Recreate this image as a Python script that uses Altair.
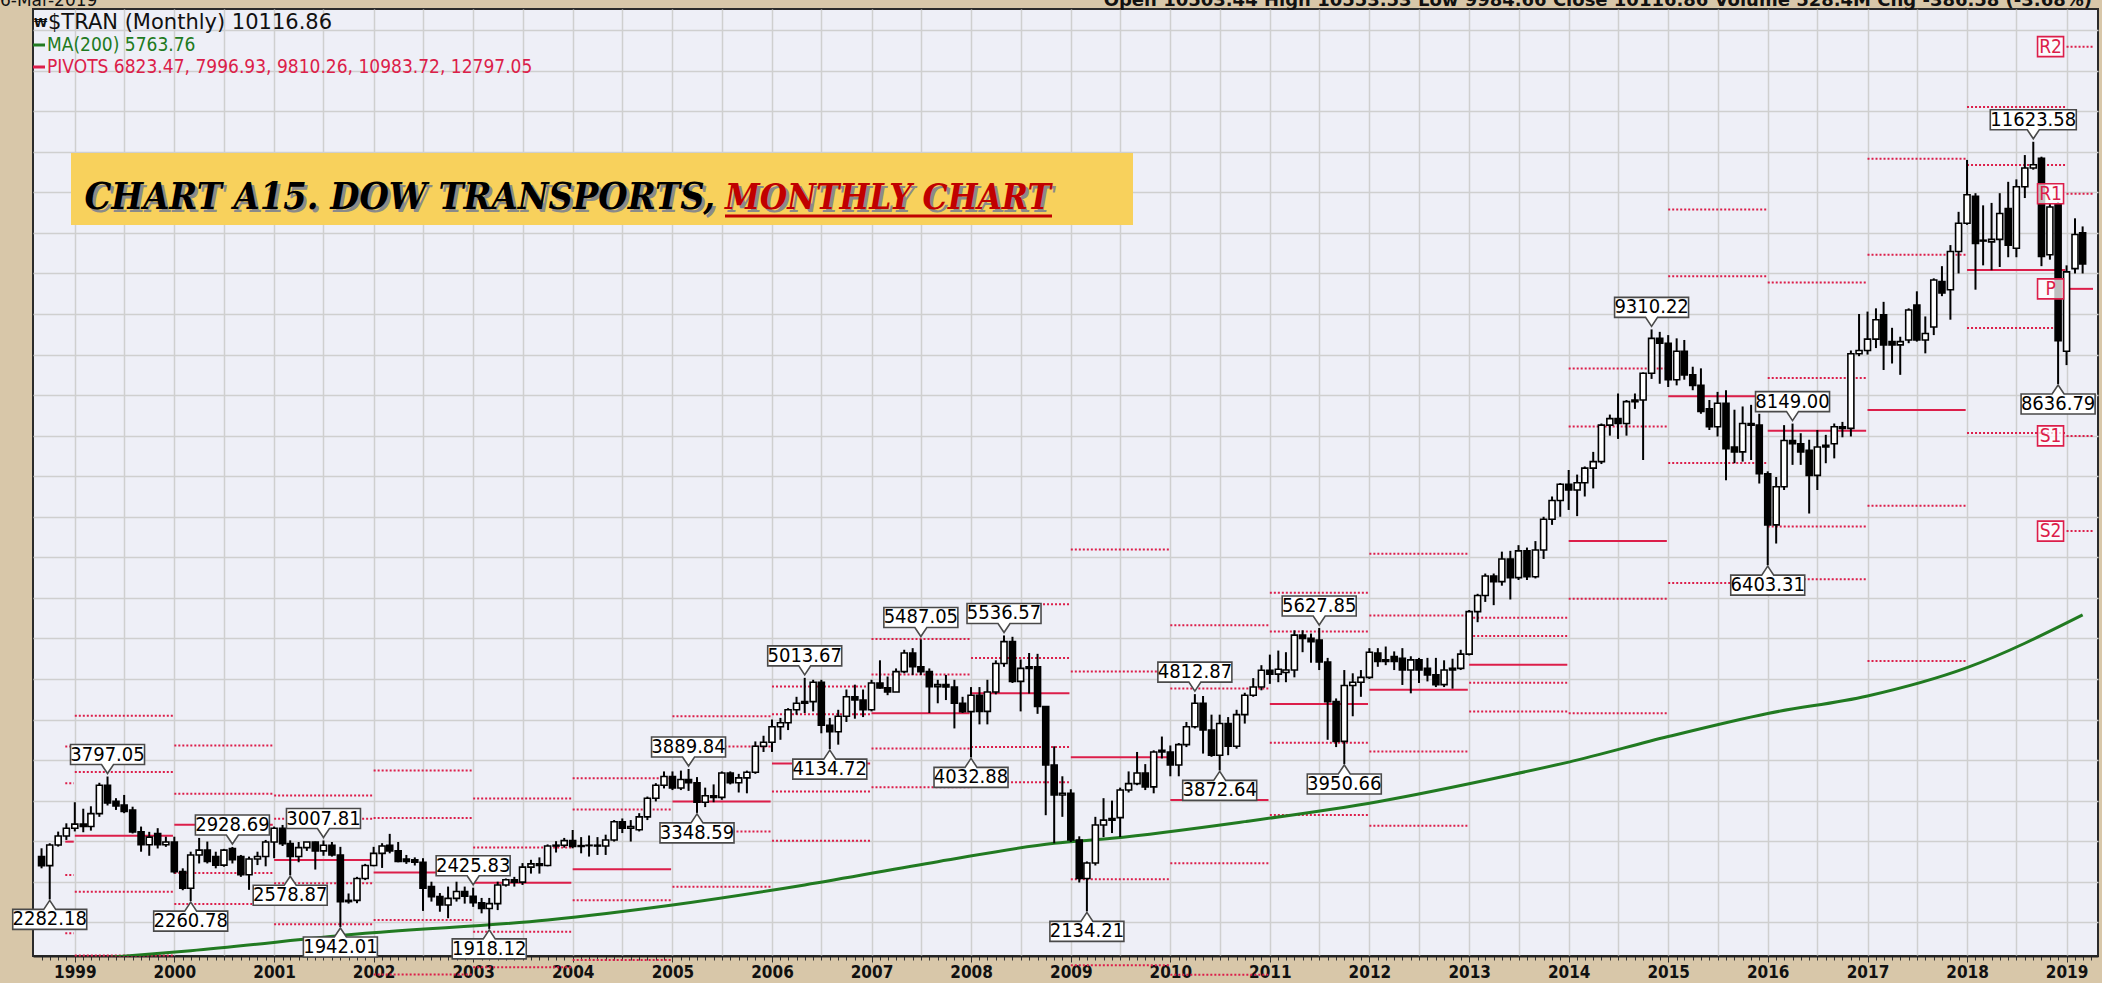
import altair as alt
import pandas as pd
import numpy as np

# ------------------------------------------------------------------
# Monthly candles of $TRAN, Sep 1998 .. Mar 2019
# ------------------------------------------------------------------
first_month = "1998-09-01"

opens = [
    2809, 2698, 2953, 3064,                                                    # 1998 Sep-Dec
    3160, 3210, 3180, 3340, 3690, 3490, 3445, 3385, 3115, 2955, 3095, 2955,    # 1999
    2990, 2625, 2420, 2830, 2890, 2810, 2705, 2910, 2810, 2585, 2780, 2810,    # 2000
    2990, 3160, 2970, 2810, 2920, 2990, 2880, 2950, 2830, 2255, 2270, 2540,    # 2001
    2700, 2850, 2950, 2880, 2780, 2770, 2740, 2440, 2316, 2213, 2295, 2380,    # 2002
    2320, 2240, 2170, 2230, 2460, 2525, 2495, 2680, 2720, 2700, 2940, 2950,    # 2003
    3007, 2935, 2945, 2950, 2940, 3015, 3240, 3160, 3140, 3300, 3530, 3690,    # 2004
    3798, 3655, 3760, 3720, 3480, 3560, 3540, 3840, 3720, 3780, 3850, 4170,    # 2005
    4220, 4410, 4460, 4620, 4700, 4720, 4960, 4430, 4350, 4540, 4780, 4740,    # 2006
    4620, 4950, 4890, 4840, 5090, 5320, 5150, 5090, 4905, 4930, 4900, 4700,    # 2007
    4597, 4800, 4600, 4840, 5190, 5460, 4970, 5130, 5150, 4660, 3940, 3570,    # 2008
    3590, 3015, 2540, 2730, 3200, 3260, 3290, 3630, 3710, 3840, 3670, 4120,    # 2009
    4100, 3940, 4190, 4410, 4700, 4370, 4060, 4450, 4170, 4560, 4800, 4900,    # 2010
    5107, 5060, 5080, 5110, 5540, 5500, 5480, 5210, 4720, 4230, 4920, 4960,    # 2011
    5020, 5320, 5215, 5275, 5255, 5110, 5235, 5130, 5050, 4930, 5110, 5130,    # 2012
    5306, 5830, 6030, 6270, 6200, 6480, 6250, 6580, 6260, 6590, 6970, 7200,    # 2013
    7400, 7330, 7420, 7600, 7680, 8130, 8210, 8150, 8420, 8440, 8770, 9200,    # 2014
    9140, 8690, 9040, 8750, 8620, 8330, 8110, 8400, 7860, 7800, 8150, 8130,    # 2015
    7530, 6900, 7370, 7940, 7900, 7820, 7510, 7860, 7900, 8110, 8090, 9010,    # 2016
    9050, 9190, 9490, 9160, 9120, 9180, 9610, 9180, 9340, 9900, 9800, 10270,   # 2017
    10620, 10950, 10410, 10390, 10420, 10800, 10310, 11070, 11300, 11420, 10230, 10860,  # 2018
    9040, 10060, 10500,                                                        # 2019 Jan-Mar
]

highs = [
    2912, 2974, 3118, 3220,
    3480, 3400, 3430, 3720, 3797.05, 3530, 3570, 3425, 3180, 3115, 3160, 3055,
    3055, 2665, 2870, 3040, 2995, 2870, 2905, 2928.69, 2830, 2810, 2870, 3015,
    3180, 3200, 3010, 2990, 2990, 2995, 3007.81, 2990, 2930, 2355, 2560, 2720,
    2930, 2975, 3090, 2990, 2830, 2800, 2790, 2500, 2360, 2440, 2500, 2440,
    2425.83, 2300, 2300, 2500, 2540, 2560, 2730, 2770, 2800, 2960, 3000, 3040,
    3138, 3050, 3070, 3050, 3080, 3260, 3280, 3260, 3345, 3550, 3715, 3860,
    3860, 3870, 3889.84, 3790, 3660, 3700, 3860, 3860, 3830, 3870, 4230, 4300,
    4500, 4520, 4640, 4780, 5013.67, 4990, 4990, 4520, 4620, 4870, 4930, 4870,
    4990, 5230, 5030, 5130, 5360, 5380, 5487.05, 5130, 4990, 5050, 4990, 4780,
    4900, 4900, 4990, 5230, 5536.57, 5520, 5240, 5320, 5310, 4660, 4170, 3800,
    3640, 3060, 2750, 3300, 3530, 3500, 3660, 3860, 4100, 3950, 4120, 4290,
    4180, 4210, 4470, 4812.87, 4790, 4560, 4560, 4530, 4620, 4830, 5010, 5170,
    5300, 5350, 5330, 5600, 5600, 5560, 5627.85, 5260, 4760, 5110, 5070, 5110,
    5380, 5380, 5400, 5340, 5380, 5280, 5260, 5260, 5260, 5230, 5250, 5360,
    5850, 6050, 6300, 6300, 6570, 6580, 6650, 6620, 6700, 7000, 7250, 7416,
    7577, 7520, 7620, 7800, 8150, 8260, 8520, 8440, 8520, 8780, 9310.22, 9280,
    9240, 9200, 9180, 8850, 8830, 8440, 8540, 8560, 8320, 8360, 8380, 8270,
    7560, 7490, 8130, 8149.00, 8030, 7950, 8070, 8010, 8150, 8170, 9050, 9500,
    9530, 9570, 9650, 9330, 9220, 9570, 9780, 9470, 9940, 10090, 10350, 10760,
    11400, 10990, 10840, 10870, 10990, 11130, 11160, 11460, 11623.58, 11440, 10860, 10880,
    10100, 10680, 10580,
]

lows = [
    2665, 2282.18, 2933, 3015,
    3120, 3110, 3130, 3300, 3440, 3385, 3345, 3095, 2870, 2820, 2910, 2930,
    2600, 2395, 2260.78, 2725, 2725, 2665, 2685, 2725, 2560, 2400, 2705, 2690,
    2790, 2940, 2578.87, 2740, 2880, 2650, 2820, 2810, 1942.01, 2230, 2235, 2520,
    2690, 2670, 2850, 2740, 2720, 2700, 2140, 2255, 2130, 2050, 2255, 2230,
    2190, 2110, 1918.12, 2150, 2440, 2440, 2460, 2600, 2600, 2690, 2860, 2920,
    2912, 2850, 2810, 2830, 2830, 2995, 3100, 2995, 3120, 3260, 3490, 3650,
    3630, 3630, 3620, 3348.59, 3420, 3480, 3510, 3700, 3600, 3590, 3830, 4100,
    4100, 4250, 4370, 4560, 4580, 4600, 4330, 4134.72, 4190, 4470, 4510, 4530,
    4600, 4880, 4800, 4840, 5070, 5050, 5050, 4580, 4700, 4740, 4390, 4580,
    4032.88, 4440, 4440, 4810, 5150, 4950, 4600, 4820, 4570, 3320, 2974, 3300,
    2990, 2490, 2134.21, 2700, 3050, 3100, 3050, 3600, 3690, 3630, 3590, 4020,
    3800, 3800, 4160, 4390, 4080, 4040, 3872.64, 4060, 4140, 4450, 4780, 4860,
    4940, 4960, 4960, 5020, 5330, 5200, 5110, 4250, 4160, 3950.66, 4540, 4780,
    5000, 5150, 5170, 5110, 4926, 4823, 4950, 4970, 4900, 4900, 4880, 5110,
    5290, 5700, 5950, 5910, 6150, 5980, 6220, 6220, 6240, 6480, 6900, 7000,
    7084, 7008, 7250, 7350, 7650, 8000, 7960, 8000, 8330, 7700, 8700, 8640,
    8600, 8620, 8690, 8560, 8270, 8070, 7990, 7450, 7660, 7680, 7700, 7410,
    6403.31, 6670, 7330, 7640, 7640, 7040, 7330, 7660, 7720, 7980, 7990, 8980,
    9000, 9080, 8810, 8890, 8750, 9140, 9160, 9015, 9240, 9720, 9430, 10000,
    10600, 9800, 10100, 10040, 10080, 10200, 10200, 10930, 11280, 10090, 10170, 8636.79,
    8870, 10000, 10000,
]

closes = [
    2698, 2953, 3064, 3160,
    3210, 3180, 3340, 3690, 3470, 3435, 3365, 3115, 2955, 3050, 2955, 2990,
    2625, 2420, 2830, 2890, 2750, 2705, 2890, 2770, 2585, 2780, 2810, 2990,
    3160, 2970, 2810, 2920, 2990, 2880, 2950, 2830, 2255, 2270, 2540, 2700,
    2850, 2940, 2880, 2750, 2750, 2740, 2420, 2316, 2213, 2295, 2380, 2320,
    2240, 2170, 2230, 2460, 2525, 2495, 2680, 2720, 2700, 2940, 2950, 3007,
    2935, 2945, 2950, 2940, 3015, 3240, 3160, 3180, 3300, 3530, 3690, 3798,
    3655, 3760, 3720, 3480, 3560, 3540, 3840, 3720, 3780, 3850, 4170, 4220,
    4410, 4460, 4620, 4700, 4720, 4960, 4430, 4350, 4540, 4780, 4740, 4620,
    4950, 4890, 4840, 5090, 5320, 5150, 5090, 4905, 4930, 4900, 4700, 4597,
    4800, 4600, 4840, 5190, 5460, 4970, 5130, 5150, 4660, 3940, 3570, 3590,
    3015, 2540, 2730, 3200, 3260, 3280, 3630, 3710, 3840, 3670, 4100, 4100,
    3940, 4190, 4410, 4700, 4370, 4060, 4450, 4170, 4560, 4800, 4900, 5107,
    5060, 5120, 5110, 5540, 5500, 5460, 5210, 4720, 4230, 4920, 4960, 5020,
    5330, 5215, 5235, 5215, 5110, 5235, 5110, 5050, 4930, 5110, 5130, 5306,
    5830, 6030, 6270, 6200, 6480, 6250, 6580, 6260, 6590, 6970, 7200, 7400,
    7330, 7420, 7600, 7680, 8130, 8210, 8150, 8420, 8440, 8770, 9200, 9140,
    8690, 9040, 8750, 8620, 8300, 8110, 8400, 7840, 7800, 8150, 8130, 7530,
    6900, 7370, 7940, 7900, 7800, 7510, 7860, 7880, 8110, 8090, 9010, 9050,
    9190, 9430, 9120, 9120, 9160, 9550, 9180, 9260, 9920, 9760, 10270, 10620,
    10970, 10370, 10400, 10420, 10740, 10350, 11070, 11300, 11340, 10210, 10820, 9170.41,
    10020, 10480, 10116.86,
]

# 200-month moving average
ma_months = ["1999-05-01", "2000-03-01", "2001-12-01", "2003-10-01", "2005-01-01",
             "2006-05-01", "2007-09-01", "2008-11-01", "2009-06-01", "2010-10-01",
             "2012-02-01", "2013-06-01", "2014-01-01", "2015-01-01", "2016-01-01",
             "2017-01-01", "2018-01-01", "2019-03-01"]
ma_values = [1565, 1650, 1864, 2028, 2213, 2460, 2747, 2974, 3036, 3241,
             3487, 3816, 3975, 4290, 4575, 4790, 5140, 5790]

# swing high / low annotations
label_months = ["1998-10-01", "1999-05-01", "2000-03-01", "2000-08-01", "2001-03-01",
                "2001-07-01", "2001-09-01", "2003-01-01", "2003-03-01", "2005-03-01",
                "2005-04-01", "2006-05-01", "2006-08-01", "2007-07-01", "2008-01-01",
                "2008-05-01", "2009-03-01", "2010-04-01", "2010-07-01", "2011-07-01",
                "2011-10-01", "2014-11-01", "2016-01-01", "2016-04-01", "2018-09-01",
                "2018-12-01"]
label_texts = ["2282.18", "3797.05", "2260.78", "2928.69", "2578.87", "3007.81", "1942.01",
               "2425.83", "1918.12", "3889.84", "3348.59", "5013.67", "4134.72", "5487.05",
               "4032.88", "5536.57", "2134.21", "4812.87", "3872.64", "5627.85", "3950.66",
               "9310.22", "6403.31", "8149.00", "11623.58", "8636.79"]
label_kinds = ["L", "H", "L", "H", "L", "H", "L", "H", "L", "H", "L", "H", "L", "H",
               "L", "H", "L", "H", "L", "H", "L", "H", "L", "H", "H", "L"]

# pivot levels shown over the last weeks of 1998 (derived from 1997, before the chart)
pivot_1998_levels = ["R2", "R1", "P", "S1", "S2"]
pivot_1998_values = [4166, 3714, 2994, 2583, 1864]
high_1998_before_chart = 3760   # 1998's yearly high was set before the first month shown

legend_line1 = "$TRAN (Monthly) 10116.86"
legend_line2 = "MA(200) 5763.76"
legend_line3 = "PIVOTS 6823.47, 7996.93, 9810.26, 10983.72, 12797.05"
header_date = "6-Mar-2019"
header_quote = "Open 10503.44  High 10553.53  Low 9984.66  Close 10116.86  Volume 528.4M  Chg -386.58 (-3.68%)"
title_black = "CHART A15. DOW TRANSPORTS,"
title_red = "MONTHLY CHART"

# ------------------------------------------------------------------
# tables
# ------------------------------------------------------------------
dates = pd.date_range(first_month, periods=len(opens), freq="MS")
candles = pd.DataFrame({"date": dates.strftime("%Y-%m-%d"), "open": opens,
                        "high": highs, "low": lows, "close": closes})
candles["high"] = candles[["high", "open", "close"]].max(axis=1)
candles["low"] = candles[["low", "open", "close"]].min(axis=1)
candles["dir"] = np.where(candles["close"] >= candles["open"], "up", "down")
candles["year"] = dates.year

yearly = candles.groupby("year").agg(h=("high", "max"), l=("low", "min"), c=("close", "last"))
yearly.loc[1998, "h"] = max(yearly.loc[1998, "h"], high_1998_before_chart)

piv_rows = []
for lvl, v in zip(pivot_1998_levels, pivot_1998_values):
    piv_rows.append({"start": "1998-11-27", "end": "1998-12-28", "v": v, "level": lvl, "year": 1998})
for yr in range(1999, 2020):
    h, l, c = yearly.loc[yr - 1, ["h", "l", "c"]]
    p = (h + l + c) / 3
    lv = {"R2": p + (h - l), "R1": 2 * p - l, "P": p, "S1": 2 * p - h, "S2": p - (h - l)}
    end = f"{yr}-12-27" if yr < 2019 else "2019-04-08"
    for k, v in lv.items():
        piv_rows.append({"start": f"{yr}-01-01", "end": end, "v": v, "level": k, "year": yr})
pivots = pd.DataFrame(piv_rows)
pivots["solid"] = pivots["level"] == "P"
piv2019 = pivots[pivots["year"] == 2019].copy()

ma = pd.DataFrame({"date": ma_months, "v": ma_values})


def box_path(n, kind):
    w = (6 * n - 5) / 50.0
    s = -1 if kind == "H" else 1
    return (f"M0,0L-0.12,{0.18*s:.2f}L-{w:.2f},{0.18*s:.2f}L-{w:.2f},{0.58*s:.2f}"
            f"L{w:.2f},{0.58*s:.2f}L{w:.2f},{0.18*s:.2f}L0.12,{0.18*s:.2f}Z")


labels = pd.DataFrame({"date": label_months, "text": label_texts, "kind": label_kinds})
labels["v"] = labels["text"].astype(float)
labels["path"] = [box_path(len(t), k) for t, k in zip(labels["text"], labels["kind"])]
lab_h = labels[labels["kind"] == "H"]
lab_l = labels[labels["kind"] == "L"]

# ------------------------------------------------------------------
# scales / axes
# ------------------------------------------------------------------
W, H = 2065, 947
NARROW = "DejaVu Sans Condensed, Liberation Sans Narrow, sans-serif"
RED = "#DC1E4A"
GREEN = "#217A21"


def ms(d):
    return int(pd.Timestamp(d).value // 10**6)


X_DOMAIN = [ms("1998-08-19"), ms("2019-04-08")]
Y_DOMAIN = [1584, 13261]
month_ticks = [ms(d) for d in pd.date_range("1998-09-01", "2019-04-01", freq="MS")]

xaxis = alt.Axis(
    values=month_ticks, grid=True, gridColor="#CFCFCF", gridWidth=1.5,
    gridOpacity={"condition": {"test": "utcmonth(datum.value) % 6 == 0", "value": 1}, "value": 0},
    labelExpr="utcmonth(datum.value) == 0 ? utcFormat(datum.value, '%Y') : ''",
    labelOverlap=False, labelFlush=False, labelBound=False,
    labelFont=NARROW, labelFontSize=17, labelFontWeight="bold", labelColor="#111111",
    labelPadding=2, tickColor="#333333", tickWidth=1,
    tickSize={"condition": {"test": "utcmonth(datum.value) == 0", "value": 6}, "value": 4},
    domainColor="#222222", domainWidth=2, title=None)
yaxis = alt.Axis(values=list(range(2000, 13001, 500)), grid=True, gridColor="#CFCFCF",
                 gridWidth=1.5, labels=False, ticks=False, domain=False, title=None, orient="right")

xs = alt.Scale(type="utc", domain=X_DOMAIN, nice=False)
ys = alt.Scale(domain=Y_DOMAIN, nice=False, zero=False)


def X(f):
    return alt.X(f"{f}:T", scale=xs, axis=xaxis, title=None)


def X2(f):
    return alt.X2(f"{f}:T")


def Y(f):
    return alt.Y(f"{f}:Q", scale=ys, axis=yaxis, title=None)


# ------------------------------------------------------------------
# layers
# ------------------------------------------------------------------
piv_dotted = alt.Chart(pivots[~pivots["solid"]]).mark_rule(
    color=RED, strokeWidth=2, strokeDash=[2, 2]).encode(x=X("start"), x2=X2("end"), y=Y("v"))
piv_solid = alt.Chart(pivots[pivots["solid"]]).mark_rule(
    color=RED, strokeWidth=2).encode(x=X("start"), x2=X2("end"), y=Y("v"))

ma_line = alt.Chart(ma).mark_line(color=GREEN, strokeWidth=3, clip=True,
                                  interpolate="monotone").encode(x=X("date"), y=Y("v"))

wicks = alt.Chart(candles).mark_rule(color="black", strokeWidth=2).encode(
    x=X("date"), y=Y("low"), y2=alt.Y2("high"))
bodies = alt.Chart(candles).mark_bar(size=6, stroke="black", strokeWidth=1.6).encode(
    x=X("date"), y=Y("open"), y2=alt.Y2("close"),
    fill=alt.Fill("dir:N", scale=alt.Scale(domain=["up", "down"], range=["white", "black"]),
                  legend=None))

box_h = alt.Chart(lab_h).mark_point(filled=True, size=10000, fill="white", stroke="#4A4A4A",
                                    strokeWidth=1.6, opacity=1, yOffset=-3).encode(
    x=X("date"), y=Y("v"), shape=alt.Shape("path:N", scale=None))
box_l = alt.Chart(lab_l).mark_point(filled=True, size=10000, fill="white", stroke="#4A4A4A",
                                    strokeWidth=1.6, opacity=1, yOffset=1).encode(
    x=X("date"), y=Y("v"), shape=alt.Shape("path:N", scale=None))
txt_h = alt.Chart(lab_h).mark_text(font=NARROW, fontSize=20, color="black", dy=-22,
                                   baseline="middle").encode(x=X("date"), y=Y("v"), text="text:N")
txt_l = alt.Chart(lab_l).mark_text(font=NARROW, fontSize=20, color="black", dy=20,
                                   baseline="middle").encode(x=X("date"), y=Y("v"), text="text:N")

pbox = alt.Chart(piv2019).mark_point(
    filled=True, size=10000, fill="white", fillOpacity=0.75, stroke=RED, strokeWidth=1.6,
    shape="M-0.26,-0.2L0.26,-0.2L0.26,0.2L-0.26,0.2Z", xOffset=-16).encode(
    x=X("start"), y=Y("v"))
ptxt = alt.Chart(piv2019).mark_text(font=NARROW, fontSize=19, color=RED, dx=-16,
                                    baseline="middle").encode(x=X("start"), y=Y("v"), text="level:N")


def deco_text(text, x, y, **kw):
    return alt.Chart(pd.DataFrame({"t": [text]})).mark_text(**kw).encode(
        x=alt.value(x), y=alt.value(y), text="t:N")


def deco_rule(x1, x2, y1, y2, **kw):
    return alt.Chart(pd.DataFrame({"a": [0]})).mark_rule(**kw).encode(
        x=alt.value(x1), x2=alt.value(x2), y=alt.value(y1), y2=alt.value(y2))


legend = [
    deco_text("\u20A9", 1, 14, font="DejaVu Sans", fontSize=12, fontWeight="bold",
              color="#111111", align="left", baseline="middle"),
    deco_text(legend_line1, 15, 14, font="DejaVu Sans", fontSize=21, color="#111111",
              align="left", baseline="middle"),
    deco_rule(0, 12, 36, 36, color=GREEN, strokeWidth=3),
    deco_text(legend_line2, 14, 36, font=NARROW, fontSize=19, color=GREEN, align="left",
              baseline="middle"),
    deco_rule(0, 12, 58, 58, color=RED, strokeWidth=3),
    deco_text(legend_line3, 14, 58, font=NARROW, fontSize=19, color=RED, align="left",
              baseline="middle"),
    deco_text(header_date, -33, -3, font="DejaVu Sans", fontSize=17, color="#111111",
              align="left", baseline="alphabetic"),
    deco_text(header_quote, 2059, -3, font="DejaVu Sans", fontSize=18, fontWeight="bold",
              color="#111111", align="right", baseline="alphabetic"),
]

TFONT = "DejaVu Serif Condensed, DejaVu Serif, serif"
title_box = alt.Chart(pd.DataFrame({"a": [0]})).mark_rect(color="#F8D15C").encode(
    x=alt.value(38), x2=alt.value(1100), y=alt.value(144), y2=alt.value(216))
tk = dict(font=TFONT, fontWeight="bold", fontStyle="italic", baseline="alphabetic")
title = [
    title_box,
    deco_text(title_black, 685, 203, fontSize=37.5, color="#8A8A8A", align="right", **tk),
    deco_text(title_black, 682, 200, fontSize=37.5, color="#000000", align="right", **tk),
    deco_text(title_red, 695, 203, fontSize=35, color="#8A8A8A", align="left", **tk),
    deco_text(title_red, 692, 200, fontSize=35, color="#C00000", align="left", **tk),
    deco_rule(692, 1019, 207, 207, color="#C00000", strokeWidth=3),
]

chart = alt.layer(
    piv_dotted, piv_solid, ma_line, wicks, bodies,
    box_h, box_l, txt_h, txt_l, pbox, ptxt,
    *legend, *title,
).properties(
    width=W, height=H,
    background="#D8C7A9",
    padding={"left": 33, "top": 9, "right": 4, "bottom": 27},
    autosize=alt.AutoSizeParams(type="none"),
).configure_view(fill="#EEEFF7", stroke="#2B2B2B", strokeWidth=2)

chart.save("out.html", embed_options={"renderer": "svg", "actions": False})
